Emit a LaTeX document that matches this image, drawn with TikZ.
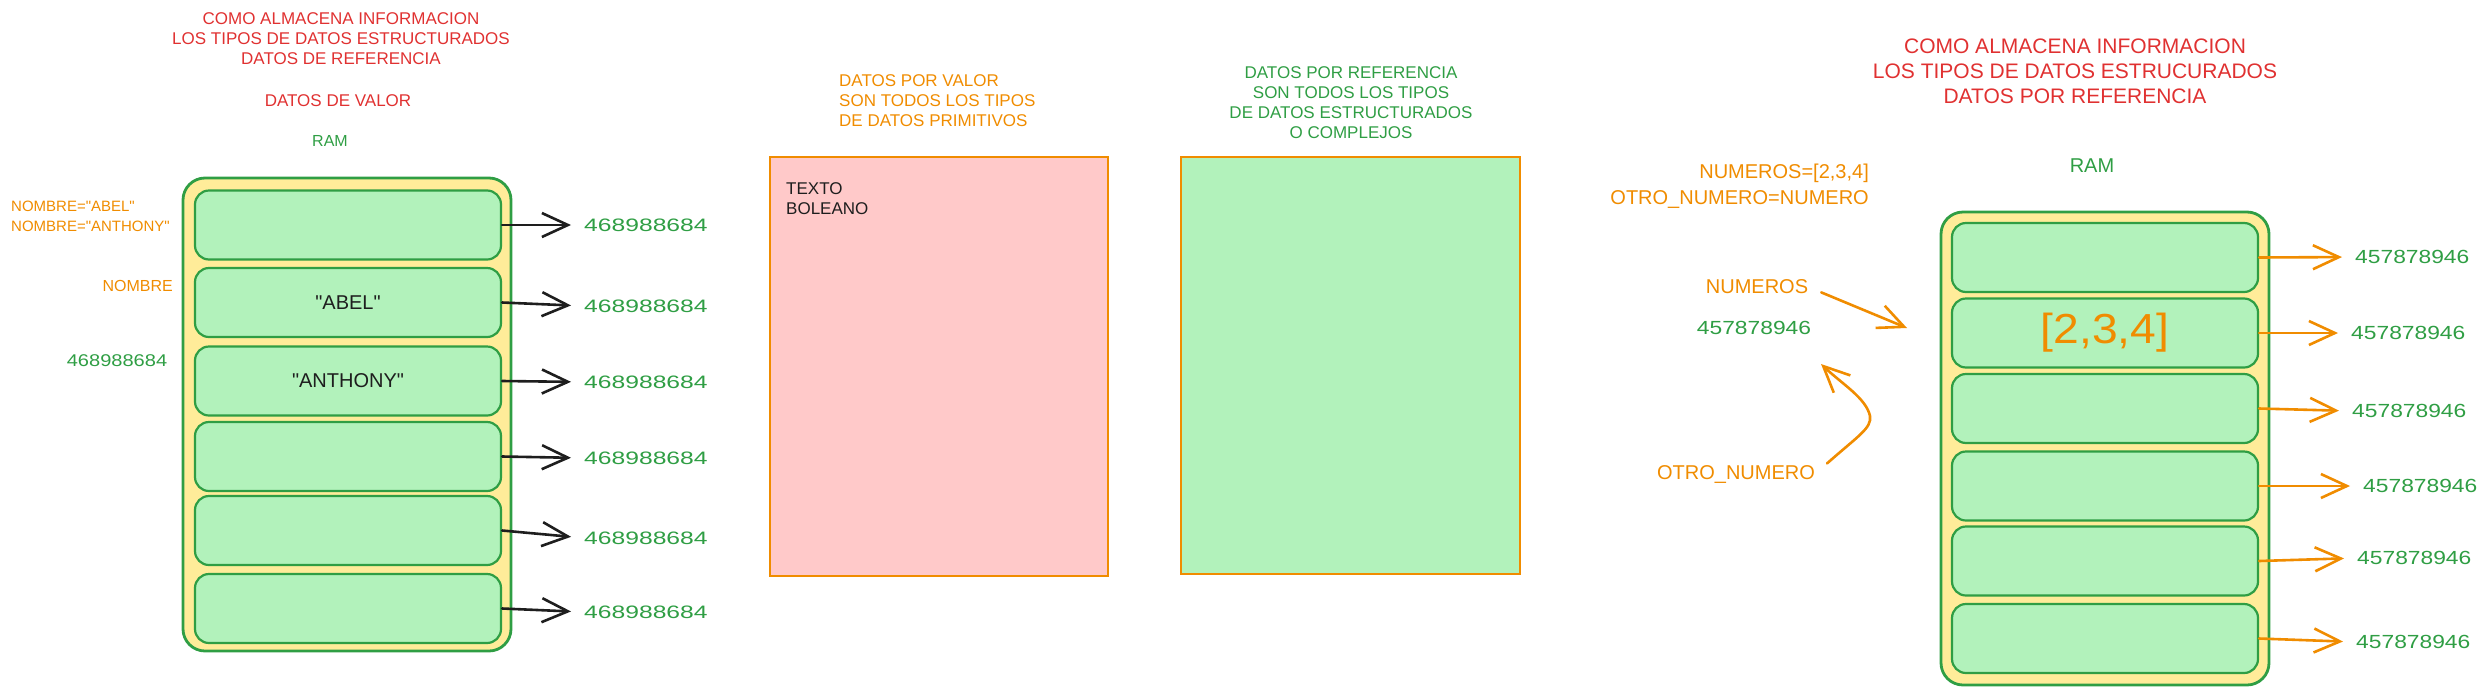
\documentclass[tikz,border=0pt]{standalone}
\usepackage{fontspec}
\usepackage{graphicx}
\setmainfont{Liberation Sans}
\usetikzlibrary{arrows.meta}
\definecolor{cred}{HTML}{E03131}
\definecolor{corange}{HTML}{F08C00}
\definecolor{cgreen}{HTML}{2F9E44}
\definecolor{cblack}{HTML}{1E1E1E}
\definecolor{cyellow}{HTML}{FFEC99}
\definecolor{cboxgreen}{HTML}{B2F2BB}
\definecolor{cpink}{HTML}{FFC9C9}
\newcommand\fs[2]{\fontsize{#1}{#2}\selectfont}
\newcommand\qq{\textquotedbl}
\newcommand\lnum{{\fs{18}{20}\scalebox{1.37}[1]{468988684}}}
\newcommand\rnum{{\fs{19}{22}\scalebox{1.2}[1]{457878946}}}
\begin{document}
\begin{tikzpicture}[x=1pt,y=-1pt,
  txt/.style={inner sep=0pt, font=\fs{17}{20}},
  ramouter/.style={draw=cgreen, fill=cyellow, line width=2.8pt, rounded corners=22pt,
    minimum width=328pt, minimum height=473pt, inner sep=0pt},
  rowbox/.style={draw=cgreen, fill=cboxgreen, line width=2.2pt, rounded corners=14pt,
    minimum width=306pt, minimum height=69pt, inner sep=0pt, font=\fs{20}{24}, text=cblack},
  bigbox/.style={draw=corange, line width=2pt},
  karr/.style={draw=cblack, line width=2.6pt, line cap=round, line join=round,
    -{Straight Barb[length=26pt,width=24pt]}},
  oarr/.style={draw=corange, line width=2.6pt, line cap=round, line join=round,
    -{Straight Barb[length=26pt,width=24pt]}},
]
\useasboundingbox (0,0) rectangle (2487,694);

% ---------- left part ----------
\node[txt, text=cred, align=center] (ltitle) at (341,39)
  {COMO ALMACENA INFORMACION\\LOS TIPOS DE DATOS ESTRUCTURADOS\\DATOS DE REFERENCIA};
\node[txt, text=cred] (lvalor) at (338,101) {DATOS DE VALOR};
\node[txt, text=cgreen, font=\fs{16}{20}] (lram) at (330,141) {RAM};

\node[ramouter] (louter) at (347,414.5) {};
\node[rowbox] (l1) at (348,225) {};
\node[rowbox] (l2) at (348,302.5) {\qq ABEL\qq};
\node[rowbox] (l3) at (348,381) {\qq ANTHONY\qq};
\node[rowbox] (l4) at (348,456.5) {};
\node[rowbox] (l5) at (348,530.5) {};
\node[rowbox] (l6) at (348,608.5) {};

\node[txt, text=cgreen, anchor=west] (ln1) at (584,225) {\lnum};
\node[txt, text=cgreen, anchor=west] (ln2) at (584,306) {\lnum};
\node[txt, text=cgreen, anchor=west] (ln3) at (584,382) {\lnum};
\node[txt, text=cgreen, anchor=west] (ln4) at (584,458) {\lnum};
\node[txt, text=cgreen, anchor=west] (ln5) at (584,538) {\lnum};
\node[txt, text=cgreen, anchor=west] (ln6) at (584,612) {\lnum};
\foreach \i in {1,...,6} {\draw[karr, shorten >=13pt] (l\i.east) -- (ln\i.west);}

\node[txt, text=corange, anchor=west, align=left, font=\fs{15}{20}] (lvars) at (11,216)
  {NOMBRE=\qq ABEL\qq\\NOMBRE=\qq ANTHONY\qq};
\node[txt, text=corange, anchor=east, font=\fs{16}{20}] (lnombre) at (173,286) {NOMBRE};
\node[txt, text=cgreen] (laddr) at (117,361) {{\fs{17}{20}\scalebox{1.18}[1]{468988684}}};

% ---------- middle part ----------
\node[txt, text=corange, anchor=west, align=left] (mvalor) at (839,101)
  {DATOS POR VALOR\\SON TODOS LOS TIPOS\\DE DATOS PRIMITIVOS};
\draw[bigbox, fill=cpink] (770,157) rectangle (1108,576);
\node[txt, text=cblack, anchor=west, align=left] (mprim) at (786,199) {TEXTO\\BOLEANO};

\node[txt, text=cgreen, align=center] (mref) at (1351,103)
  {DATOS POR REFERENCIA\\SON TODOS LOS TIPOS\\DE DATOS ESTRUCTURADOS\\O COMPLEJOS};
\draw[bigbox, fill=cboxgreen] (1181,157) rectangle (1520,574);

% ---------- right part ----------
\node[txt, text=cred, align=center, font=\fs{21}{25}] (rtitle) at (2075,71)
  {COMO ALMACENA INFORMACION\\LOS TIPOS DE DATOS ESTRUCURADOS\\DATOS POR REFERENCIA};
\node[txt, text=cgreen, font=\fs{20}{24}] (rram) at (2092,166) {RAM};
\node[txt, text=corange, anchor=east, align=right, font=\fs{20}{26}] (rvars) at (1869,186)
  {NUMEROS=[2,3,4]\\OTRO\_NUMERO=NUMERO};

\node[ramouter] (router) at (2105,448.5) {};
\node[rowbox] (r1) at (2105,257.5) {};
\node[rowbox, text=corange, font=\fs{42}{46}] (r2) at (2105,333) {\scalebox{1.1}[1]{[2,3,4]}};
\node[rowbox] (r3) at (2105,408.5) {};
\node[rowbox] (r4) at (2105,486) {};
\node[rowbox] (r5) at (2105,561) {};
\node[rowbox] (r6) at (2105,638.5) {};

\node[txt, text=cgreen, anchor=west] (rn1) at (2355,257) {\rnum};
\node[txt, text=cgreen, anchor=west] (rn2) at (2351,333) {\rnum};
\node[txt, text=cgreen, anchor=west] (rn3) at (2352,411) {\rnum};
\node[txt, text=cgreen, anchor=west] (rn4) at (2363,486) {\rnum};
\node[txt, text=cgreen, anchor=west] (rn5) at (2357,558) {\rnum};
\node[txt, text=cgreen, anchor=west] (rn6) at (2356,642) {\rnum};
\foreach \i in {1,...,6} {\draw[oarr, shorten >=13pt] (r\i.east) -- (rn\i.west);}

\node[txt, text=corange, font=\fs{20}{24}] (numeros) at (1757,287) {NUMEROS};
\node[txt, text=cgreen] (raddr) at (1754,328) {\rnum};
\node[txt, text=corange, font=\fs{20}{24}] (otro) at (1736,474) {OTRO\_NUMERO};
\coordinate (numtip) at (1907,328);
\coordinate (otrotip) at (1821,364);
\draw[oarr, shorten <=14pt] (numeros.east) -- (numtip);
\draw[oarr, shorten <=16pt] (otro.east) .. controls (1858,436) and (1872,428) .. (1870,416)
  .. controls (1866,398) and (1842,384) .. (otrotip);
\end{tikzpicture}
\end{document}
